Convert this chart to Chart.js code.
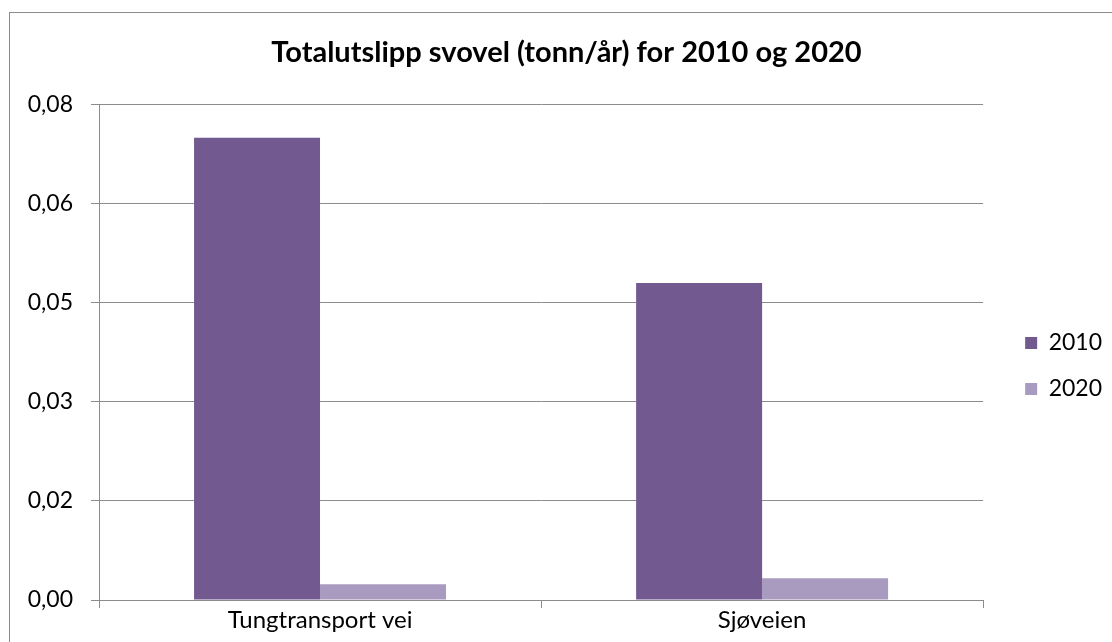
<!DOCTYPE html>
<html>
<head>
<meta charset="utf-8">
<script src="https://cdn.jsdelivr.net/npm/chart.js@4/dist/chart.umd.min.js"></script>
<style>
	html, body { margin: 0; padding: 0; background: #fff; overflow: hidden; }
	#wrap { position: relative; width: 1112px; height: 642px; }
	#frame { position: absolute; left: 9px; top: 12px; width: 1200px; height: 700px; border: 1px solid #8c8c8c; pointer-events: none; }
</style>
</head>
<body>
<div id="wrap">
	<canvas id="chart-svovel" width="1112" height="642"></canvas>
	<div id="frame"></div>
</div>
<script>
	// Totalutslipp svovel
	const kategorier = ['Tungtransport vei', 'Sjøveien'];
	const aar = ['2010', '2020'];
	const utslipp2010 = [0.070, 0.048];
	const utslipp2020 = [0.0024, 0.0033];
	const yTickLabels = ['0,00', '0,02', '0,03', '0,05', '0,06', '0,08'];

	const farger = ['#725990', '#a99bbf'];
	const grid = '#8c8c8c';
	const font = 'Lato';

	// flytt tittel og legende litt, som i Excel
	const flytt = {
		id: 'flytt',
		afterLayout(chart) {
			const l = chart.legend;
			l.left += 19; l.right += 19;
			l.top += 45; l.bottom += 45;
			const t = chart.titleBlock;
			t.left += 20; t.right += 20;
		}
	};

	var config = {
		type: 'bar',
		data: {
			labels: kategorier,
			datasets: [{
				label: aar[0],
				data: utslipp2010,
				backgroundColor: farger[0],
			}, {
				label: aar[1],
				data: utslipp2020,
				backgroundColor: farger[1],
			}]
		},
		options: {
			responsive: false,
			animation: false,
			layout: { padding: { left: 0, right: 19, top: 0, bottom: 0 } },
			datasets: {
				bar: { categoryPercentage: 0.57, barPercentage: 1.0 }
			},
			scales: {
				x: {
					grid: { offset: true, drawOnChartArea: false, drawTicks: true, tickLength: 8, color: grid },
					border: { color: grid, width: 1 },
					ticks: { color: '#000', padding: 0, font: { family: font, size: 24, lineHeight: 1 } },
					afterFit(scale) { scale.height = 42; }
				},
				y: {
					min: 0,
					max: 0.075,
					grid: { color: grid, tickLength: 8, drawTicks: true },
					border: { color: grid, width: 1 },
					ticks: {
						stepSize: 0.015,
						padding: 18,
						color: '#000',
						font: { family: font, size: 23 },
						callback: function(v, i) { return yTickLabels[i]; }
					},
					afterFit(scale) { scale.width = 99; }
				}
			},
			plugins: {
				legend: {
					display: true,
					position: 'right',
					labels: {
						boxWidth: 12,
						boxHeight: 12,
						padding: 23,
						color: '#000',
						font: { family: font, size: 23 }
					}
				},
				title: {
					display: true,
					text: 'Totalutslipp svovel (tonn/år) for 2010 og 2020',
					color: '#000',
					font: { family: font, size: 29, weight: 'bold', lineHeight: 1.2 },
					padding: { top: 35, bottom: 35 }
				},
				tooltip: { enabled: false }
			}
		},
		plugins: [flytt]
	};

	var ctx = document.getElementById('chart-svovel').getContext('2d');
	window.chartSvovel = new Chart(ctx, config);
</script>
</body>
</html>
